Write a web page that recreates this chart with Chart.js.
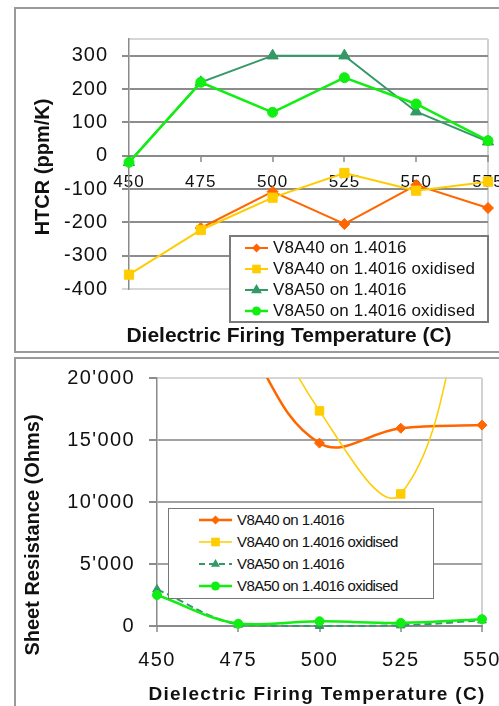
<!DOCTYPE html>
<html><head><meta charset="utf-8">
<script src="https://cdn.jsdelivr.net/npm/chart.js@4"></script>
<style>
html,body{margin:0;padding:0;background:#fff;}
#wrap{position:relative;width:499px;height:706px;overflow:hidden;background:#fff;font-family:'Liberation Sans',Arial,sans-serif;color:#111;}
.frame{position:absolute;border:2px solid #9a9a9a;box-sizing:border-box;}
canvas{position:absolute;}
.title{position:absolute;font-weight:bold;white-space:nowrap;line-height:1;color:#111;}
.legend{position:absolute;background:#fff;box-sizing:border-box;z-index:2;}
.row{position:absolute;left:0;height:20px;white-space:nowrap;}
.row svg{position:absolute;top:0;}
.row span{position:absolute;top:0;line-height:20px;color:#111;}
</style></head>
<body><div id="wrap">
<div class="frame" style="left:14px;top:7px;width:560px;height:346px"></div>
<div class="frame" style="left:14px;top:357px;width:560px;height:420px"></div>
<canvas id="c1" width="499" height="352" style="left:0;top:0"></canvas>
<canvas id="c2" width="499" height="354" style="left:0;top:352px"></canvas>
<div class="title" style="left:42px;top:167px;font-size:20px;transform:translate(-50%,-50%) rotate(-90deg)">HTCR (ppm/K)</div>
<div class="title" style="left:289px;top:324px;font-size:21px;transform:translateX(-50%)">Dielectric Firing Temperature (C)</div>
<div class="title" style="left:32px;top:535px;font-size:20px;transform:translate(-50%,-50%) rotate(-90deg)">Sheet Resistance (Ohms)</div>
<div class="title" style="left:317px;top:684px;font-size:19px;letter-spacing:1.3px;transform:translateX(-50%)">Dielectric Firing Temperature (C)</div>
<div class="legend" id="lg1" style="left:229px;top:235px;width:260px;height:88px;border:2px solid #7a7a7a"></div>
<div class="legend" id="lg2" style="left:168px;top:508px;width:266px;height:91px;border:1.5px solid #777"></div>
</div>
<script>
// ---- data ----
const seriesNames = ['V8A40 on 1.4016', 'V8A40 on 1.4016 oxidised', 'V8A50 on 1.4016', 'V8A50 on 1.4016 oxidised'];
// HTCR chart
const tempsHTCR = [450, 475, 500, 525, 550, 575];
const htcrTicks = [-400, -300, -200, -100, 0, 100, 200, 300, 350];
const htcrV8A40 = [null, -217, -108, -205, -88, -157];
const htcrV8A40ox = [-357, -223, -126, -52, -105, -78];
const htcrV8A50 = [-20, 220, 300, 300, 132, 42];
const htcrV8A50ox = [-20, 220, 130, 234, 155, 45];
// Sheet resistance chart
const tempsSR = [450, 475, 500, 525, 550];
const srTicks = [0, 5000, 10000, 15000, 20000];
const srV8A40 = [null, 24000, 14750, 15950, 16200];
const srV8A40ox = [null, 30000, 17350, 10650, 33000];
const srV8A50 = [2950, 100, 0, 50, 450];
const srV8A50ox = [2500, 180, 380, 250, 550];

// ---- styles ----
const colors = ['#FF6600', '#FFCC00', '#339966', '#11EE11'];
const pStyles = ['rectRot', 'rect', 'triangle', 'circle'];
const FONT = "'Liberation Sans', Arial, sans-serif";

function pts(xs, ys) { return xs.map((x, i) => ({x: x, y: ys[i]})); }

function ds(i, xs, ys, extra) {
  return Object.assign({
    label: seriesNames[i],
    data: pts(xs, ys),
    borderColor: colors[i],
    backgroundColor: colors[i],
    pointBackgroundColor: colors[i],
    pointBorderColor: colors[i],
    pointBorderWidth: 1,
    pointStyle: pStyles[i],
    order: 3 - i
  }, extra);
}

const letterSpacing = (px) => ({
  id: 'ls',
  beforeDraw(c) { c.ctx.letterSpacing = px; },
  afterDraw(c) { c.ctx.letterSpacing = '0px'; }
});

// ---- chart 1 : HTCR ----
const r1 = [5.5, 6.5, 6.5, 5];
new Chart(document.getElementById('c1'), {
  type: 'line',
  data: {
    datasets: [
      ds(0, tempsHTCR, htcrV8A40, {borderWidth: 2, pointRadius: r1[0], tension: 0}),
      ds(1, tempsHTCR, htcrV8A40ox, {borderWidth: 2, pointRadius: r1[1], tension: 0}),
      ds(2, tempsHTCR, htcrV8A50, {borderWidth: 2, pointRadius: r1[2], tension: 0}),
      ds(3, tempsHTCR, htcrV8A50ox, {borderWidth: 2.5, pointRadius: r1[3], tension: 0})
    ].map(d => Object.assign(d, {clip: false}))
  },
  options: {
    responsive: false, animation: false, events: [],
    layout: {padding: {left: 0, top: 39, right: 11, bottom: 63}},
    plugins: {legend: {display: false}, tooltip: {enabled: false}},
    scales: {
      x: {
        type: 'linear', min: 450, max: 575, position: {y: 0},
        afterBuildTicks: s => { s.ticks = tempsHTCR.map(v => ({value: v})); },
        ticks: {autoSkip: false, maxRotation: 0, padding: 11,
          font: {family: "'Liberation Sans Narrow', 'Arial Narrow', " + FONT, size: 17}, color: '#111'},
        grid: {color: c => (c.tick && c.tick.value === 575) ? '#d2d2d2' : 'rgba(0,0,0,0)', lineWidth: 2,
          tickLength: 5, tickColor: '#8a8a8a', tickWidth: 1.5},
        border: {color: '#8a8a8a', width: 2},
        afterFit: s => { s.paddingLeft = 0; s.paddingRight = 0; }
      },
      y: {
        min: htcrTicks[0], max: htcrTicks[htcrTicks.length - 1],
        afterBuildTicks: s => { s.ticks = htcrTicks.map(v => ({value: v})); },
        ticks: {padding: 14, color: '#111', font: {family: FONT, size: 20},
          callback: v => v === 350 ? '' : String(v)},
        grid: {color: c => (c.tick && (c.tick.value === 350 || c.tick.value === -400)) ? '#d6d6d6' : '#8c8c8c',
          lineWidth: 2, tickLength: 7,
          tickColor: c => (c.tick && c.tick.value === 350) ? 'rgba(0,0,0,0)' : ((c.tick && c.tick.value === -400) ? '#d6d6d6' : '#8c8c8c')},
        border: {color: '#8a8a8a', width: 1.5},
        afterFit: s => { s.width = 129; s.paddingTop = 0; s.paddingBottom = 0; }
      }
    }
  },
  plugins: [letterSpacing('1px')]
});

// ---- chart 2 : Sheet resistance ----
const fmt = v => String(v).replace(/\B(?=(\d{3})+(?!\d))/g, "'");
const clip2 = {left: 12, top: 0, right: 12, bottom: 12};
new Chart(document.getElementById('c2'), {
  type: 'line',
  data: {
    datasets: [
      ds(0, tempsSR, srV8A40, {borderWidth: 2.5, pointRadius: 5, tension: 0.4, clip: clip2}),
      ds(1, tempsSR, srV8A40ox, {borderWidth: 1.5, pointRadius: 6, tension: 0.4, clip: clip2}),
      ds(2, tempsSR, srV8A50, {borderWidth: 2, borderDash: [7, 4], pointRadius: 5, tension: 0.4, clip: clip2}),
      ds(3, tempsSR, srV8A50ox, {borderWidth: 2.5, pointRadius: 4.5, tension: 0.4, clip: clip2})
    ]
  },
  options: {
    responsive: false, animation: false, events: [],
    layout: {padding: {left: 0, top: 26, right: 17, bottom: 80}},
    plugins: {legend: {display: false}, tooltip: {enabled: false}},
    scales: {
      x: {
        type: 'linear', min: 450, max: 550, position: {y: 0},
        afterBuildTicks: s => { s.ticks = tempsSR.map(v => ({value: v})); },
        ticks: {autoSkip: false, maxRotation: 0, padding: 17, color: '#111',
          font: {family: FONT, size: 20}},
        grid: {color: c => (c.tick && c.tick.value === 550) ? '#d2d2d2' : 'rgba(0,0,0,0)', lineWidth: 2,
          tickLength: 5, tickColor: '#8a8a8a', tickWidth: 1.5},
        border: {color: '#8a8a8a', width: 2},
        afterFit: s => { s.paddingLeft = 0; s.paddingRight = 0; }
      },
      y: {
        min: srTicks[0], max: srTicks[srTicks.length - 1],
        afterBuildTicks: s => { s.ticks = srTicks.map(v => ({value: v})); },
        ticks: {padding: 14, color: '#111', font: {family: FONT, size: 20}, callback: v => fmt(v)},
        grid: {color: c => (c.tick && c.tick.value === 20000) ? '#d6d6d6' : '#a2a2a2', lineWidth: 2,
          tickLength: 8, tickColor: '#8c8c8c'},
        border: {color: '#8a8a8a', width: 1.5},
        afterFit: s => { s.width = 157; s.paddingTop = 0; s.paddingBottom = 0; }
      }
    }
  },
  plugins: [letterSpacing('1.4px')]
});

// ---- HTML legends ----
function markerSVG(i, cx, cy, r) {
  const c = colors[i];
  const s = pStyles[i];
  if (s === 'rectRot') return `<polygon points="${cx},${cy - r} ${cx + r},${cy} ${cx},${cy + r} ${cx - r},${cy}" fill="${c}"/>`;
  if (s === 'rect') { const h = r * 0.72; return `<rect x="${cx - h}" y="${cy - h}" width="${2 * h}" height="${2 * h}" fill="${c}"/>`; }
  if (s === 'triangle') return `<polygon points="${cx},${cy - r} ${cx + r * 0.9},${cy + r * 0.55} ${cx - r * 0.9},${cy + r * 0.55}" fill="${c}"/>`;
  return `<circle cx="${cx}" cy="${cy}" r="${r}" fill="${c}"/>`;
}
function buildLegend(id, o) {
  const el = document.getElementById(id);
  seriesNames.forEach((name, i) => {
    const row = document.createElement('div');
    row.className = 'row';
    row.style.top = (o.y0 + i * o.dy - 10) + 'px';
    row.style.width = '100%';
    const w = o.x1 - o.x0;
    const dash = (o.dashed && o.dashed[i]) ? 'stroke-dasharray="6 4"' : '';
    row.innerHTML = `<svg width="${w}" height="20" style="left:${o.x0}px"><line x1="0" y1="10" x2="${w}" y2="10" stroke="${colors[i]}" stroke-width="${o.lw[i]}" ${dash}/>${markerSVG(i, w / 2, 10, o.r[i])}</svg>` +
      `<span style="left:${o.tx}px;font-size:${o.fs}px;letter-spacing:${o.ls}px">${name}</span>`;
    el.appendChild(row);
  });
}
buildLegend('lg1', {y0: 11, dy: 21, x0: 14, x1: 37, tx: 42, fs: 17, ls: 0.15, lw: [2, 2, 2, 2.5], r: [4.5, 6, 6, 4.5]});
buildLegend('lg2', {y0: 10.5, dy: 22.3, x0: 30, x1: 63, tx: 68, fs: 15, ls: -0.6, lw: [2.5, 1.5, 2, 2.5], r: [4.5, 6, 5, 4.5], dashed: [false, false, true, false]});
</script>
</body></html>
